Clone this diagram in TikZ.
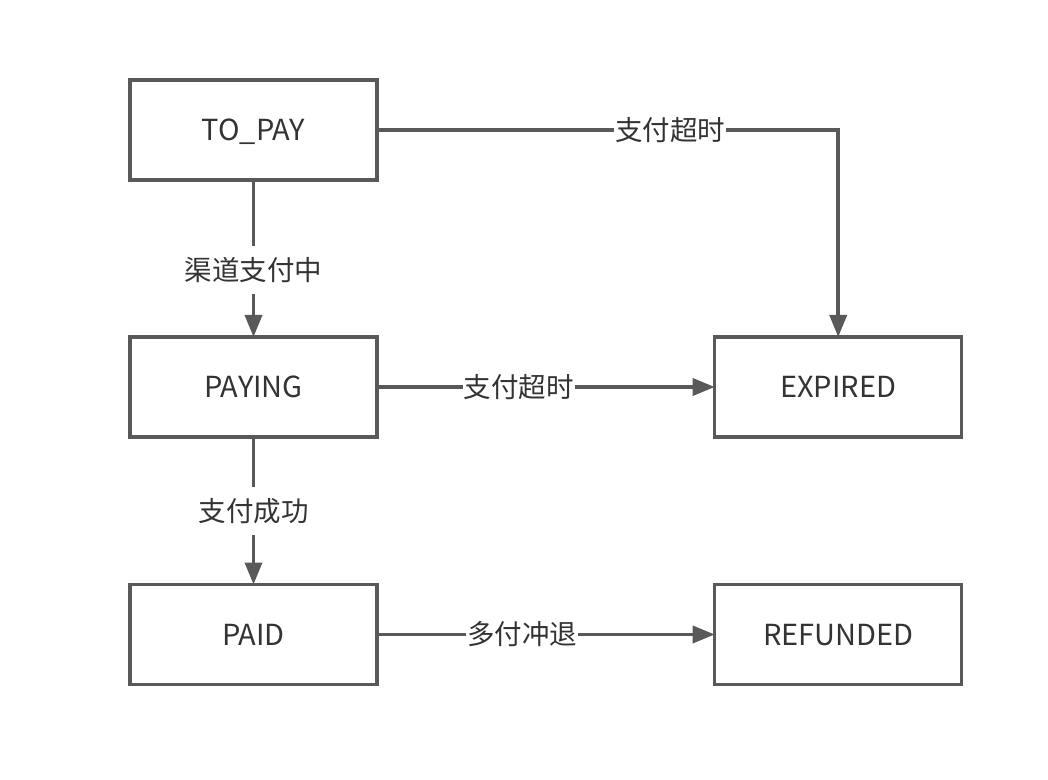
\documentclass[tikz,border=0pt]{standalone}
\usepackage{fontspec}
\setmainfont{Noto Sans CJK SC}
\usepackage{xcolor}
\usetikzlibrary{arrows.meta, positioning}
\definecolor{linegray}{HTML}{595959}
\definecolor{textgray}{HTML}{333333}
\tikzset{> = { Triangle[length = 11pt, width = 8.5pt] }}

\begin{document}
\begin{tikzpicture}[->, color = linegray, line width = 1.75pt, state/.style = { draw, rectangle, outer sep = 0pt, minimum width = 123.5pt, minimum height = 50pt, text = textgray, text height = 10.6pt, text depth = 0pt, font = \fontsize{14.5}{17}\selectfont }, event/.style = { fill = white, inner xsep = 0.5pt, inner ysep = 5.6pt, text = textgray, font = \fontsize{13.75}{16}\selectfont }]
				\path [use as bounding box, fill = white] (0, 0) rectangle (524pt, -390pt);

				\node [state] (topay) at (126.75pt, -65pt) {TO\_PAY};
				\node [state, below = 78.5pt of topay] (paying) {PAYING};
				\node [state, below = 73.75pt of paying] (paid) {PAID};
				\node [state, right = 168.85pt of paying] (expired) {EXPIRED};
				\node [state, right = 168.85pt of paid] (refunded) {REFUNDED};

				\draw (topay) -- node [event, pos = 0.573] {渠道支付中} (paying);
				\draw (paying) -- node [event, pos = 0.5] {支付成功} (paid);
				\draw (topay.east) -| node [event, pos = 0.318] {支付超时} (expired.north);
				\draw (paying) -- node [event, pos = 0.42] {支付超时} (expired);
				\draw (paid) -- node [event, pos = 0.43] {多付冲退} (refunded);
			\end{tikzpicture}
\end{document}
